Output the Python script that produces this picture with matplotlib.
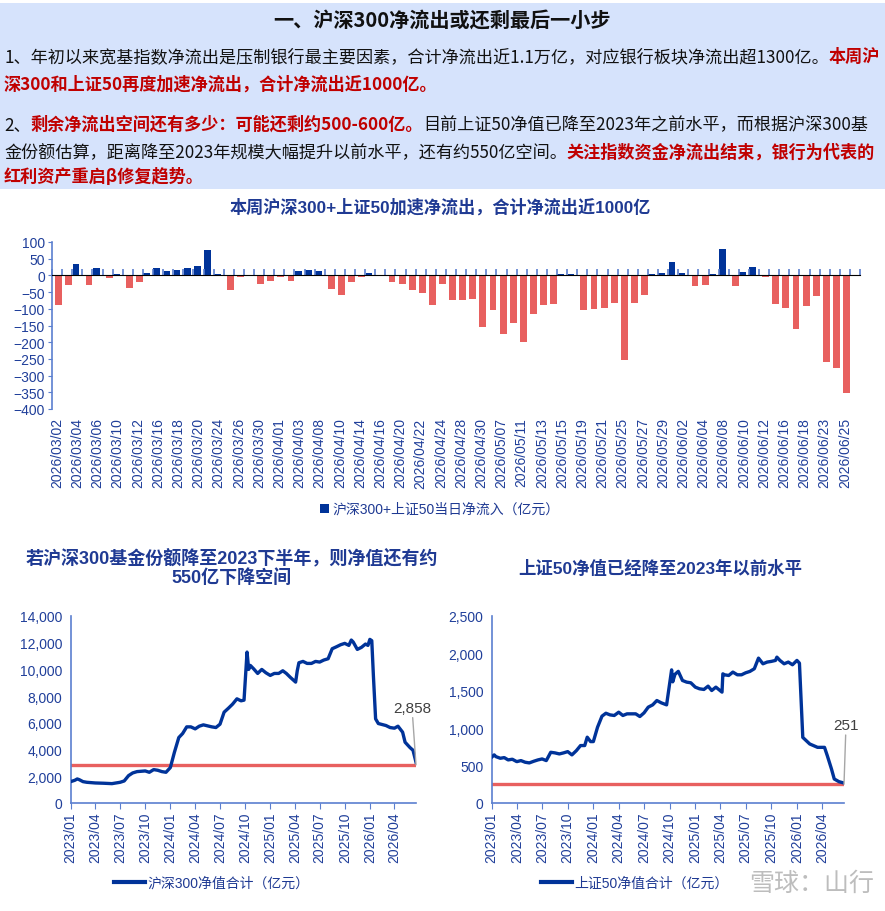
import matplotlib
matplotlib.use('Agg')
import matplotlib.pyplot as plt
import matplotlib.dates as mdates
import numpy as np
import pandas as pd
from matplotlib.ticker import MultipleLocator, FuncFormatter
from matplotlib.lines import Line2D
from matplotlib.patches import Rectangle, Patch

plt.rcParams['font.family'] = ['Liberation Sans', 'Noto Sans CJK SC', 'DejaVu Sans']
CJK = ['Noto Sans CJK SC', 'DejaVu Sans']

# ---------------- data ----------------
flow_dates = [
    "2026/03/02", "2026/03/03", "2026/03/04", "2026/03/05", "2026/03/06", "2026/03/09", "2026/03/10",
    "2026/03/11", "2026/03/12", "2026/03/13", "2026/03/16", "2026/03/17", "2026/03/18", "2026/03/19",
    "2026/03/20", "2026/03/23", "2026/03/24", "2026/03/25", "2026/03/26", "2026/03/27", "2026/03/30",
    "2026/03/31", "2026/04/01", "2026/04/02", "2026/04/03", "2026/04/07", "2026/04/08", "2026/04/09",
    "2026/04/10", "2026/04/13", "2026/04/14", "2026/04/15", "2026/04/16", "2026/04/17", "2026/04/20",
    "2026/04/21", "2026/04/22", "2026/04/23", "2026/04/24", "2026/04/27", "2026/04/28", "2026/04/29",
    "2026/04/30", "2026/05/06", "2026/05/07", "2026/05/08", "2026/05/11", "2026/05/12", "2026/05/13",
    "2026/05/14", "2026/05/15", "2026/05/18", "2026/05/19", "2026/05/20", "2026/05/21", "2026/05/22",
    "2026/05/25", "2026/05/26", "2026/05/27", "2026/05/28", "2026/05/29", "2026/06/01", "2026/06/02",
    "2026/06/03", "2026/06/04", "2026/06/05", "2026/06/08", "2026/06/09", "2026/06/10", "2026/06/11",
    "2026/06/12", "2026/06/15", "2026/06/16", "2026/06/17", "2026/06/18", "2026/06/22", "2026/06/23",
    "2026/06/24", "2026/06/25",
]
flow_values = [
    -90, -30, 33, -30, 21, -8, 3, -39, -20, 6, 21, 12, 15, 21, 27, 75, 3, -45, -4, 0,
    -27, -18, -4, -18, 12, 16, 12, -42, -60, -21, -4, 7, 0, -20, -27, -45, -54, -90, -27, -75,
    -75, -72, -153, -105, -174, -144, -198, -117, -90, -87, 3, 3, -105, -102, -99, -84, -252, -84, -60, 3,
    6, 39, 6, -33, -30, 3, 78, -33, 9, 24, -4, -87, -99, -159, -93, -63, -258, -276, -352,
]
flow_label = "沪深300+上证50当日净流入（亿元）"

hs300_dates = [
    "2023-01-01", "2023-01-16", "2023-01-25", "2023-02-01", "2023-02-15", "2023-03-01", "2023-04-01",
    "2023-05-01", "2023-06-01", "2023-07-01", "2023-07-16", "2023-08-01", "2023-08-16", "2023-09-01",
    "2023-10-01", "2023-10-16", "2023-11-01", "2023-11-16", "2023-12-01", "2023-12-16", "2024-01-01",
    "2024-01-16", "2024-02-01", "2024-02-15", "2024-03-01", "2024-03-16", "2024-04-01", "2024-04-16",
    "2024-05-01", "2024-06-01", "2024-06-16", "2024-07-01", "2024-07-16", "2024-08-01", "2024-08-16",
    "2024-09-01", "2024-09-16", "2024-09-27", "2024-10-08", "2024-10-14", "2024-10-20", "2024-11-01",
    "2024-11-16", "2024-12-01", "2024-12-16", "2025-01-01", "2025-01-16", "2025-02-01", "2025-02-16",
    "2025-03-01", "2025-03-16", "2025-04-04", "2025-04-10", "2025-04-16", "2025-05-01", "2025-05-16",
    "2025-06-01", "2025-06-16", "2025-07-01", "2025-07-16", "2025-08-01", "2025-08-16", "2025-09-01",
    "2025-09-16", "2025-10-01", "2025-10-16", "2025-10-25", "2025-11-01", "2025-11-16", "2025-12-01",
    "2025-12-16", "2025-12-25", "2026-01-01", "2026-01-08", "2026-01-14", "2026-01-22", "2026-02-01",
    "2026-03-01", "2026-03-16", "2026-04-01", "2026-04-14", "2026-05-01", "2026-05-10", "2026-05-28",
    "2026-06-08", "2026-06-19",
]
hs300_values = [
    1600, 1700, 1800, 1750, 1600, 1550, 1500,
    1480, 1450, 1550, 1650, 2050, 2250, 2350,
    2400, 2300, 2500, 2450, 2350, 2300, 2650,
    3800, 4900, 5200, 5700, 5700, 5550, 5750,
    5850, 5700, 5650, 5900, 6800, 7100, 7400,
    7800, 7650, 7700, 11300, 10000, 10300, 10050,
    9700, 10000, 9750, 9550, 9700, 9700, 9900,
    9700, 9400, 9050, 9900, 10500, 10600, 10450,
    10450, 10600, 10550, 10700, 10800, 11550, 11700,
    11850, 11950, 11800, 12200, 12050, 11500, 11650,
    11900, 11800, 12250, 12150, 9500, 6300, 5950,
    5800, 5650, 5600, 5750, 5300, 4550, 4150,
    3950, 3050,
]
hs300_floor = 2858
hs300_label = "沪深300净值合计（亿元）"

sz50_dates = [
    "2023-01-01", "2023-01-10", "2023-01-16", "2023-02-01", "2023-02-15", "2023-03-01", "2023-03-16",
    "2023-04-01", "2023-04-16", "2023-05-01", "2023-05-16", "2023-06-01", "2023-06-16", "2023-07-01",
    "2023-07-16", "2023-08-01", "2023-08-16", "2023-09-01", "2023-09-16", "2023-10-01", "2023-10-16",
    "2023-11-01", "2023-11-16", "2023-12-01", "2023-12-10", "2023-12-22", "2024-01-01", "2024-01-16",
    "2024-02-01", "2024-02-15", "2024-03-01", "2024-03-16", "2024-04-01", "2024-04-16", "2024-05-01",
    "2024-05-16", "2024-06-01", "2024-06-16", "2024-07-01", "2024-07-16", "2024-08-01", "2024-08-16",
    "2024-09-01", "2024-09-20", "2024-10-08", "2024-10-12", "2024-10-20", "2024-11-01", "2024-11-16",
    "2024-12-01", "2024-12-16", "2025-01-01", "2025-01-16", "2025-02-01", "2025-02-16", "2025-03-01",
    "2025-03-16", "2025-04-07", "2025-04-10", "2025-04-16", "2025-05-01", "2025-05-16", "2025-06-01",
    "2025-06-16", "2025-07-01", "2025-07-16", "2025-08-01", "2025-08-16", "2025-09-01", "2025-09-16",
    "2025-10-01", "2025-10-16", "2025-10-21", "2025-11-01", "2025-11-16", "2025-12-01", "2025-12-16",
    "2026-01-01", "2026-01-10", "2026-01-22", "2026-02-16", "2026-03-16", "2026-04-10", "2026-04-20",
    "2026-05-05", "2026-05-15", "2026-06-01", "2026-06-19",
]
sz50_values = [
    612, 643, 620, 598, 607, 576, 585,
    553, 567, 545, 536, 558, 576, 589,
    567, 678, 670, 656, 670, 687, 643,
    700, 768, 768, 880, 821, 821, 1013,
    1161, 1200, 1178, 1170, 1214, 1170, 1192,
    1192, 1192, 1156, 1205, 1281, 1312, 1370,
    1339, 1312, 1780, 1620, 1720, 1760, 1638,
    1616, 1607, 1549, 1527, 1518, 1562, 1504,
    1549, 1482, 1727, 1714, 1705, 1750, 1714,
    1714, 1741, 1759, 1795, 1937, 1861, 1884,
    1893, 1906, 1950, 1906, 1861, 1884, 1848,
    1906, 1870, 877, 789, 744, 744, 633,
    455, 321, 285, 267,
]
sz50_floor = 251
sz50_label = "上证50净值合计（亿元）"

header_title = "一、沪深300净流出或还剩最后一小步"
header_lines = [
    [("1、年初以来宽基指数净流出是压制银行最主要因素，合计净流出近1.1万亿，对应银行板块净流出超1300亿。", 'k'), ("本周沪", 'r')],
    [("深300和上证50再度加速净流出，合计净流出近1000亿。", 'r')],
    [("2、", 'k'), ("剩余净流出空间还有多少：可能还剩约500-600亿。", 'r'), ("目前上证50净值已降至2023年之前水平，而根据沪深300基", 'k')],
    [("金份额估算，距离降至2023年规模大幅提升以前水平，还有约550亿空间。", 'k'), ("关注指数资金净流出结束，银行为代表的", 'r')],
    [("红利资产重启β修复趋势。", 'r')],
]
bar_title = "本周沪深300+上证50加速净流出，合计净流出近1000亿"
left_title = "若沪深300基金份额降至2023下半年，则净值还有约\n550亿下降空间"
right_title = "上证50净值已经降至2023年以前水平"

# ---------------- styles ----------------
W, H = 885, 912
NAVY = '#1F3A93'
BLUE = '#003399'
RED = '#E8605F'
AX = '#5B7FCF'
TXT = '#203F9A'

fig = plt.figure(figsize=(W / 100, H / 100), dpi=100)
fig.patch.set_facecolor('white')
renderer = fig.canvas.get_renderer()

def fx(px):
    return px / W

def fy(py):
    return 1 - py / H

# header box
fig.patches.append(Rectangle((0, fy(190)), 1, (190 - 4) / H, transform=fig.transFigure,
                             facecolor='#D6E3FC', edgecolor='none', zorder=0))
fig.text(0.5, fy(21), header_title, ha='center', va='center', fontsize=14.5,
         fontweight='bold', color='#111111', family=CJK)

line_y = [57, 85, 125, 153, 177]
cmap = {'k': '#111111', 'r': '#C00000'}


def draw_lines(size, draw=True):
    widest = 0
    made = []
    for segs, yy in zip(header_lines, line_y):
        x = 4
        for txt, c in segs:
            t = fig.text(fx(x), fy(yy), txt, ha='left', va='center', fontsize=size,
                         color=cmap[c], fontweight='bold' if c == 'r' else 'normal', family=CJK)
            x += t.get_window_extent(renderer).width
            made.append(t)
        widest = max(widest, x)
    if not draw:
        for t in made:
            t.remove()
    return widest

base = 12.0
w0 = draw_lines(base, draw=False)
draw_lines(base * (878 - 4) / (w0 - 4))

# ---------------- bar chart ----------------
fig.text(fx(440), fy(207), bar_title, ha='center', va='center', fontsize=12.3,
         fontweight='bold', color=NAVY)
ax = fig.add_axes([fx(52), fy(410), (860 - 52) / W, (410 - 243) / H])
vals = np.array(flow_values, dtype=float)
xs = np.arange(len(vals))
pos = vals >= 0
ax.bar(xs[pos] - 0.12, vals[pos], width=0.68, color=BLUE, label=flow_label, zorder=3)
ax.bar(xs[~pos] + 0.16, vals[~pos], width=0.68, color=RED, zorder=3)
ymin, ymax = -400, 100
ax.set_ylim(ymin, ymax)
ax.set_xlim(-0.5, len(vals) + 0.5)
ax.yaxis.set_major_locator(MultipleLocator(50))
ax.set_xticks(xs[::2])
ax.set_xticklabels(flow_dates[::2], rotation=90, fontsize=10, color=TXT)
ax.tick_params(axis='x', length=0, pad=6)
ax.tick_params(axis='y', length=3, color=AX, labelsize=10, labelcolor=TXT, pad=2)
for s in ['top', 'right', 'bottom']:
    ax.spines[s].set_visible(False)
ax.spines['left'].set_color(AX)
ax.spines['left'].set_linewidth(1.2)
sec = ax.secondary_xaxis((0 - ymin) / (ymax - ymin))
sec.set_xticks(np.arange(-0.5, len(vals) + 1.0, 1.0))
sec.set_xticklabels([])
sec.tick_params(axis='x', direction='out', length=4, color=AX, width=1.2)
sec.spines['bottom'].set_color(AX)
sec.spines['bottom'].set_linewidth(1.5)
sec.set_zorder(4)
fig.legend(handles=[Patch(facecolor=BLUE, label=flow_label)], loc='center',
           bbox_to_anchor=(fx(440), fy(510)), frameon=False, fontsize=10,
           handlelength=0.6, handleheight=0.6, handletextpad=0.3, labelcolor=NAVY)

# ---------------- line charts ----------------
def line_panel(rect, dates, values, floor, ylim, ystep, label, floor_txt, txt_off, legend_x):
    a = fig.add_axes(rect)
    d = pd.to_datetime(dates)
    a.plot(d, values, color=BLUE, lw=2.4, solid_joinstyle='round', zorder=3, label=label)
    a.plot([d[0], d[-1]], [floor, floor], color=RED, lw=2.4, zorder=2)
    a.set_xlim(d[0], d[-1])
    a.set_ylim(*ylim)
    a.yaxis.set_major_locator(MultipleLocator(ystep))
    a.yaxis.set_major_formatter(FuncFormatter(lambda v, p: f"{int(v):,}"))
    a.xaxis.set_major_locator(mdates.MonthLocator(bymonth=[1, 4, 7, 10]))
    a.xaxis.set_major_formatter(mdates.DateFormatter('%Y/%m'))
    plt.setp(a.get_xticklabels(), rotation=90)
    a.tick_params(axis='x', length=4, color=AX, labelsize=10, labelcolor=TXT, pad=2)
    a.tick_params(axis='y', length=0, labelsize=10, labelcolor=TXT, pad=6)
    for s in ['top', 'right']:
        a.spines[s].set_visible(False)
    for s in ['left', 'bottom']:
        a.spines[s].set_color(AX)
        a.spines[s].set_linewidth(1.2)
    a.annotate(floor_txt, xy=(d[-1], floor), xytext=txt_off, textcoords='offset pixels',
               ha='center', va='bottom', fontsize=11, color='#404040',
               arrowprops=dict(arrowstyle='-', color='#A6A6A6', lw=1, shrinkA=0, shrinkB=0))
    fig.legend(handles=[Line2D([], [], color=BLUE, lw=3, label=label)], loc='center',
               bbox_to_anchor=(fx(legend_x), fy(884)), frameon=False, fontsize=10,
               handlelength=2.2, handletextpad=0.2, labelcolor=NAVY)
    return a

fig.text(fx(232), fy(568), left_title, ha='center', va='center', fontsize=13,
         fontweight='bold', color=NAVY, linespacing=1.1)
fig.text(fx(660), fy(568), right_title, ha='center', va='center', fontsize=12.5,
         fontweight='bold', color=NAVY)

line_panel([fx(70.7), fy(804), (416 - 70.7) / W, (804 - 617) / H], hs300_dates, hs300_values,
           hs300_floor, (0, 14000), 2000, hs300_label, f"{hs300_floor:,}", (-4, 50), 212)
line_panel([fx(491.7), fy(804), (844 - 491.7) / W, (804 - 617) / H], sz50_dates, sz50_values,
           sz50_floor, (0, 2500), 500, sz50_label, f"{sz50_floor:,}", (2, 52), 635)

# watermark
fig.text(fx(812), fy(884), "雪球：山行", ha='center', va='center', fontsize=18,
         color='#888888', alpha=0.55, family=CJK)

fig.savefig('out.png', dpi=100)
